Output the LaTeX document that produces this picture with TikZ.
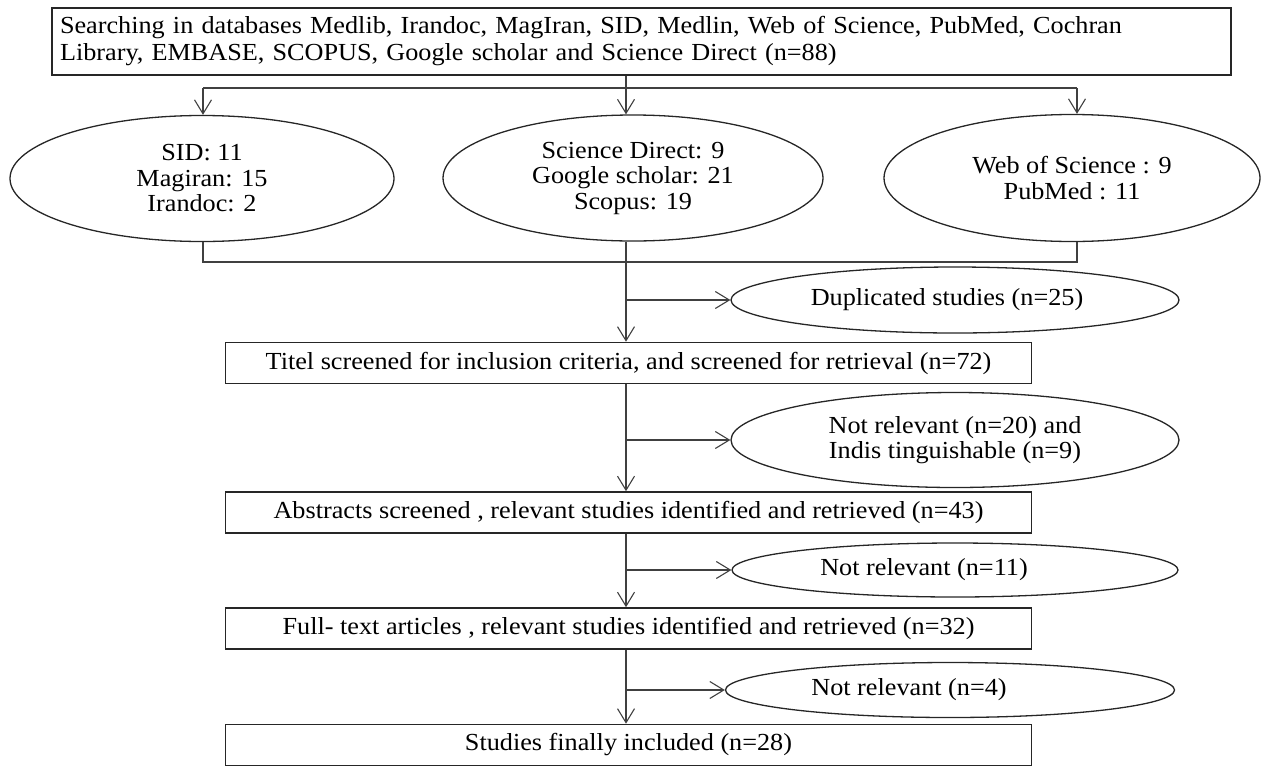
\documentclass[tikz,border=0pt]{standalone}
\usepackage{fontspec}
\setmainfont{Liberation Serif}[FakeStretch=1.07]
\usetikzlibrary{shapes.geometric,arrows.meta}
\begin{document}
\begin{tikzpicture}[x=1pt,y=-1pt,
  txt/.style={font=\fontsize{24.5}{25.5}\selectfont, text=black},
  rbox/.style={draw=black!85, line width=1.6pt, inner sep=0pt, txt},
  oval/.style={ellipse, draw=black!85, line width=1.3pt, inner sep=0pt, txt, align=center},
  conn/.style={draw=black!75, line width=1.3pt},
  arr/.style={conn, -{Straight Barb[length=14pt,width=17pt,line width=1.1pt]}}
]
\useasboundingbox (0,0) rectangle (1268,766);
% top box
\node[rbox, minimum width=1179pt, minimum height=67pt, text width=1163pt, align=left,
      font=\fontsize{24.5}{27}\selectfont] (top) at (641.5,41.5)
  {Searching in databases Medlib, Irandoc, MagIran, SID, Medlin, Web of Science, PubMed, Cochran\\
   Library, EMBASE, SCOPUS, Google scholar and Science Direct (n=88)};
% source ellipses
\node[oval, minimum width=384pt, minimum height=126pt] (e1) at (202,178.5)
  {SID: 11\\Magiran: 15\\Irandoc: 2};
\node[oval, minimum width=380pt, minimum height=126pt] (e2) at (633,178)
  {Science Direct: 9\\Google scholar: 21\\Scopus: 19};
\node[oval, minimum width=376pt, minimum height=127pt] (e3) at (1072,178)
  {Web of Science : 9\\PubMed : 11};
% main boxes
\node[rbox, minimum width=806pt, minimum height=41pt] (b2) at (628.5,363)
  {Titel screened for inclusion criteria, and screened for retrieval (n=72)};
\node[rbox, minimum width=806pt, minimum height=41pt] (b3) at (628.5,512.5)
  {Abstracts screened , relevant studies identified and retrieved (n=43)};
\node[rbox, minimum width=806pt, minimum height=41pt] (b4) at (628.5,628.5)
  {Full- text articles , relevant studies identified and retrieved (n=32)};
\node[rbox, minimum width=806pt, minimum height=41pt] (b5) at (628.5,745)
  {Studies finally included (n=28)};
% exclusion ellipses
\node[oval, minimum width=448pt, minimum height=66pt] (d) at (955,300)
  {Duplicated studies (n=25)\hspace*{16pt}};
\node[oval, minimum width=448pt, minimum height=95pt] (n1) at (955,440)
  {Not relevant (n=20) and\\Indis tinguishable (n=9)};
\node[oval, minimum width=446pt, minimum height=54pt] (n2) at (955,570)
  {Not relevant (n=11)\hspace*{62pt}};
\node[oval, minimum width=449pt, minimum height=55pt] (n3) at (950,690)
  {Not relevant (n=4)\hspace*{82pt}};
% coordinates
\coordinate (br) at (626,88);
\coordinate (a1) at (203,88);
\coordinate (a3) at (1077,88);
\coordinate (j) at (626,262);
% top branching
\draw[conn] (top.south -| br) -- (br);
\draw[conn] (a1) -- (a3);
\draw[arr] (a1) -- (a1 |- e1.north);
\draw[arr] (br) -- (br |- e2.north);
\draw[arr] (a3) -- (a3 |- e3.north);
% merge
\draw[conn] (a1 |- e1.south) -- (a1 |- j) -- (a3 |- j) -- (a3 |- e3.south);
\draw[arr] (br |- e2.south) -- (br |- b2.north);
\draw[arr] (br |- d.west) -- (d.west);
% chain
\draw[arr] (br |- b2.south) -- (br |- b3.north);
\draw[arr] (br |- n1.west) -- (n1.west);
\draw[arr] (br |- b3.south) -- (br |- b4.north);
\draw[arr] (br |- n2.west) -- (n2.west);
\draw[arr] (br |- b4.south) -- (br |- b5.north);
\draw[arr] (br |- n3.west) -- (n3.west);
\end{tikzpicture}
\end{document}
